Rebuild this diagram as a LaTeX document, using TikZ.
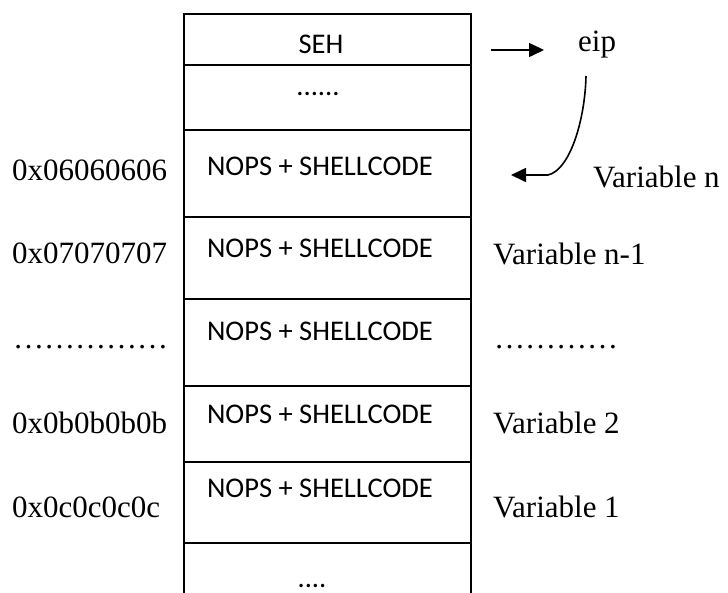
\documentclass[tikz,border=0pt]{standalone}
\usepackage{fontspec}
\setmainfont{Liberation Serif}
\newfontfamily\cellfont{Carlito}
\usetikzlibrary{arrows.meta}

\begin{document}
\begin{tikzpicture}[x=1pt,y=-1pt,
  cell/.style={draw, line width=1.8pt, rectangle, inner sep=0pt, outer sep=0pt,
    minimum width=287pt, anchor=north west},
  celltext/.style={font=\cellfont\fontsize{28.5}{32}\selectfont, anchor=base, inner sep=0pt},
  lbl/.style={font=\fontsize{31}{36}\selectfont, anchor=base west, inner sep=0pt},
  arr/.style={line width=1.6pt, -{Triangle[length=15pt,width=14pt]}}]
  \useasboundingbox (0,0) rectangle (728,592);
  \clip (0,0) rectangle (728,592);

  % stack cells
  \node[cell, minimum height=51pt] (c0) at (184,14) {};
  \node[cell, minimum height=65pt] (c1) at (184,65) {};
  \node[cell, minimum height=87pt] (c2) at (184,130) {};
  \node[cell, minimum height=82pt] (c3) at (184,217) {};
  \node[cell, minimum height=87pt] (c4) at (184,299) {};
  \node[cell, minimum height=76pt] (c5) at (184,386) {};
  \node[cell, minimum height=81pt] (c6) at (184,462) {};
  \node[cell, minimum height=70pt] (c7) at (184,543) {};

  % cell contents
  \node[celltext] (t0) at (321,53) {SEH};
  \node[celltext] (t1) at (318,95) {......};
  \node[celltext] (t2) at (320,175) {NOPS + SHELLCODE};
  \node[celltext] (t3) at (320,257) {NOPS + SHELLCODE};
  \node[celltext] (t4) at (320,340) {NOPS + SHELLCODE};
  \node[celltext] (t5) at (320,423) {NOPS + SHELLCODE};
  \node[celltext] (t6) at (320,497) {NOPS + SHELLCODE};
  \node[celltext] (t7) at (312,587) {....};

  % addresses
  \node[lbl] (a2) at (12,180) {0x06060606};
  \node[lbl] (a3) at (12,263) {0x07070707};
  \node[lbl] (a4) at (13,348) {……………};
  \node[lbl] (a5) at (12,433) {0x0b0b0b0b};
  \node[lbl] (a6) at (12,517) {0x0c0c0c0c};

  % variables
  \node[lbl] (v2) at (593,187) {Variable n};
  \node[lbl] (v3) at (493,264) {Variable n-1};
  \node[lbl] (v4) at (494,348) {…………};
  \node[lbl] (v5) at (493,433) {Variable 2};
  \node[lbl] (v6) at (493,517) {Variable 1};

  % instruction pointer
  \node[lbl] (eip) at (578,51) {eip};
  \coordinate (sehout) at (491,50);
  \coordinate (eipin) at (544,50);
  \draw[arr] (sehout) -- (eipin);

  \coordinate (eipdown) at (586,76);
  \coordinate (bend) at (548,175);
  \coordinate (target) at (511,175);
  \draw[arr] (eipdown) .. controls (585,120) and (570,170) .. (bend) -- (target);
\end{tikzpicture}
\end{document}
